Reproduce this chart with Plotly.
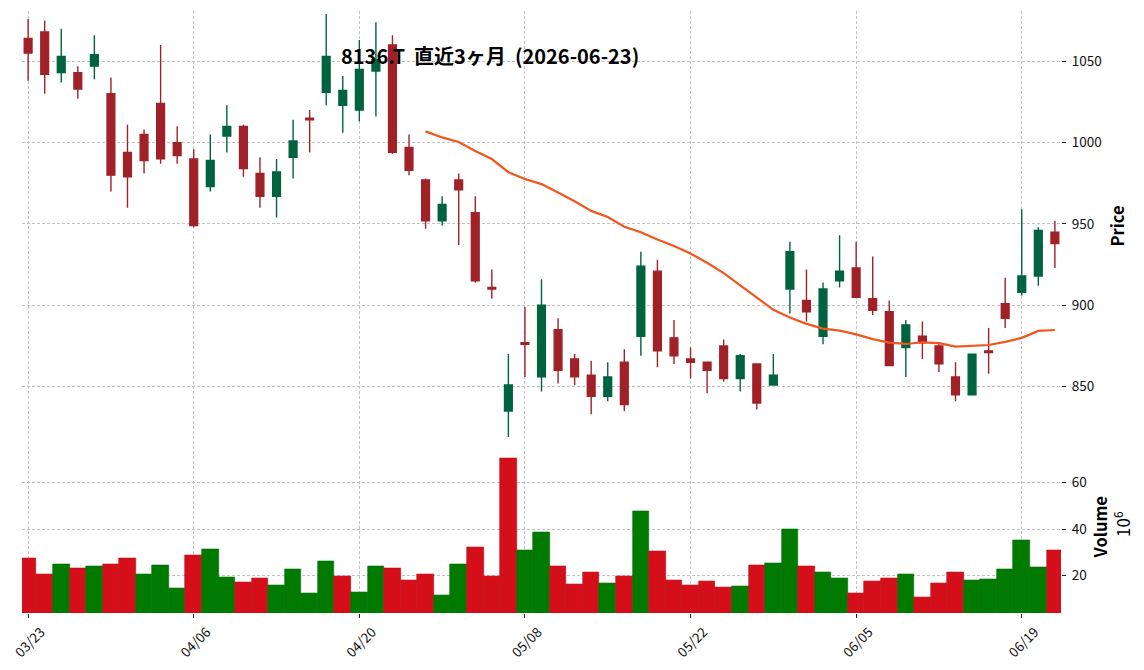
import pandas as pd
import plotly.graph_objects as go
from plotly.subplots import make_subplots

# ---------------- data ----------------
dates = (
    ["2026-03-%02d" % d for d in [23, 24, 25, 26, 27, 30, 31]]
    + ["2026-04-%02d" % d for d in [1, 2, 3, 6, 7, 8, 9, 10, 13, 14, 15, 16, 17, 20, 21, 22, 23, 24, 27, 28, 30]]
    + ["2026-05-%02d" % d for d in [1, 7, 8, 11, 12, 13, 14, 15, 18, 19, 20, 21, 22, 25, 26, 27, 28, 29]]
    + ["2026-06-%02d" % d for d in [1, 2, 3, 4, 5, 8, 9, 10, 11, 12, 15, 16, 17, 18, 19, 22, 23]]
)

opens = [1064, 1068, 1043, 1043, 1047, 1030, 994, 1005, 1024, 1000,
         990, 973, 1004, 1010, 981, 967, 991, 1015, 1031, 1023,
         1020, 1044, 1060, 997, 977, 952, 977, 957, 911, 835,
         877, 856, 885, 867, 857, 844, 865, 881, 921, 880,
         867, 865, 875, 855, 864, 851, 910, 903, 881, 915,
         923, 904, 896, 874, 881, 875, 856, 845, 872, 901,
         908, 918, 945]
highs = [1076, 1075, 1070, 1047, 1066, 1040, 1011, 1008, 1060, 1010,
         996, 1005, 1023, 1011, 991, 990, 1014, 1020, 1079, 1041,
         1063, 1074, 1066, 1005, 978, 967, 981, 967, 922, 870,
         899, 916, 892, 870, 866, 865, 873, 933, 928, 891,
         874, 865, 879, 870, 864, 870, 939, 922, 914, 943,
         939, 930, 903, 891, 890, 877, 865, 870, 886, 917,
         959, 948, 952]
lows = [1038, 1030, 1037, 1027, 1039, 970, 960, 981, 987, 987,
        948, 970, 994, 979, 960, 954, 978, 994, 1023, 1006,
        1013, 1016, 993, 980, 947, 949, 937, 914, 904, 819,
        856, 847, 852, 851, 833, 841, 835, 869, 862, 864,
        855, 846, 853, 847, 836, 851, 895, 890, 876, 911,
        905, 894, 863, 856, 867, 859, 841, 845, 858, 886,
        906, 912, 923]
closes = [1055, 1042, 1053, 1033, 1054, 980, 979, 989, 990, 992,
          949, 989, 1010, 984, 967, 982, 1001, 1014, 1053, 1032,
          1045, 1051, 994, 983, 952, 962, 971, 915, 910, 851,
          876, 900, 860, 856, 844, 856, 839, 924, 872, 869,
          865, 860, 855, 869, 840, 857, 933, 896, 910, 921,
          905, 897, 863, 888, 877, 864, 845, 870, 871, 892,
          918, 946, 938]
volumes = [27.4, 20.6, 24.9, 23.1, 24.0, 24.9, 27.4, 20.6, 24.4, 14.5,
           28.7, 31.3, 19.3, 17.1, 18.8, 15.8, 22.7, 12.4, 26.1, 19.7,
           12.8, 24.0, 23.1, 17.9, 20.6, 11.5, 24.9, 32.2, 19.7, 70.5,
           30.9, 38.6, 24.0, 16.3, 21.4, 16.7, 19.7, 47.7, 30.5, 17.9,
           15.8, 17.5, 14.9, 15.3, 24.4, 25.3, 39.9, 24.0, 21.4, 18.8,
           12.4, 17.5, 18.8, 20.6, 10.7, 16.7, 21.4, 17.9, 18.4, 22.7,
           35.2, 23.6, 30.9]  # x 10^6

tick_idx = [0, 10, 20, 30, 40, 50, 60]
tick_vals = [dates[i] for i in tick_idx]
tick_text = [d[5:7] + "/" + d[8:10] for d in tick_vals]

title_text = "8136.T&nbsp;&nbsp;直近3ヶ月&nbsp;&nbsp;(2026-06-23)"

# ---------------- styles ----------------
UP = "#006340"
DOWN = "#A02128"
VUP = "#007a00"
VDOWN = "#d50f1a"
MA_COLOR = "#f2561d"
FONT = "Noto Sans CJK JP"
GRID = "#c2c2c2"
DASH = "3px,2px"

ma25 = pd.Series(closes).rolling(25).mean()

vcolors = []
vlines = []
for i in range(len(closes)):
    ref = opens[0] if i == 0 else closes[i - 1]
    up = closes[i] > ref
    vcolors.append(VUP if up else VDOWN)
    vlines.append("#006a00" if up else "#b80d17")

fig = make_subplots(rows=2, cols=1, shared_xaxes=True, vertical_spacing=0.003,
                    row_heights=[0.714, 0.286])

fig.add_trace(go.Candlestick(
    x=dates, open=opens, high=highs, low=lows, close=closes,
    increasing=dict(line=dict(color=UP, width=1.4), fillcolor=UP),
    decreasing=dict(line=dict(color=DOWN, width=1.4), fillcolor=DOWN),
    whiskerwidth=0, showlegend=False, hoverinfo="skip"), row=1, col=1)

fig.add_trace(go.Scatter(
    x=dates, y=ma25, mode="lines", line=dict(color=MA_COLOR, width=2.2),
    showlegend=False, hoverinfo="skip"), row=1, col=1)

fig.add_trace(go.Bar(
    x=dates, y=volumes, width=1.0,
    marker=dict(color=vcolors, line=dict(color=vlines, width=0.6)),
    showlegend=False, hoverinfo="skip"), row=2, col=1)

xr = [-0.37, 62.37]
common_x = dict(type="category", range=xr, showgrid=True, gridcolor=GRID,
                griddash=DASH, gridwidth=0.8, showline=False, zeroline=False,
                tickmode="array", tickvals=tick_vals, ticktext=tick_text,
                rangeslider=dict(visible=False), automargin=False)
fig.update_xaxes(**common_x)
fig.update_xaxes(showticklabels=False, ticks="", row=1, col=1)
fig.update_xaxes(ticks="outside", ticklen=4, tickwidth=1.2, tickcolor="#222",
                 tickangle=-45, ticklabelshift=13, ticklabelstandoff=1,
                 tickfont=dict(family=FONT, size=13.5, color="#111"), row=2, col=1)

fig.update_yaxes(side="right", range=[817.5, 1080.9], tickvals=[850, 900, 950, 1000, 1050],
                 showgrid=True, gridcolor=GRID, griddash=DASH, gridwidth=0.8,
                 zeroline=False, showline=False, ticks="outside", ticklen=4,
                 tickcolor="#222", tickwidth=1.2, ticklabelstandoff=3, automargin=False,
                 tickfont=dict(family=FONT, size=13.5, color="#111"), row=1, col=1)
fig.update_yaxes(side="right", range=[3.9, 77.8], tickvals=[20, 40, 60],
                 showgrid=True, gridcolor=GRID, griddash=DASH, gridwidth=0.8,
                 zeroline=False, showline=False, ticks="outside", ticklen=4,
                 tickcolor="#222", tickwidth=1.2, ticklabelstandoff=3, automargin=False,
                 tickfont=dict(family=FONT, size=13.5, color="#111"), row=2, col=1)

L, R, T, B = 22, 1061.5, 11, 613
W, H = 1144, 670


def px(x):
    return (x - L) / (R - L)


def py(y):
    return (B - y) / (B - T)


anns = [
    dict(text="<b>" + title_text + "</b>", x=px(490.5), y=py(56), xref="paper", yref="paper",
         showarrow=False, font=dict(family=FONT, size=20, color="#000"),
         xanchor="center", yanchor="middle"),
    dict(text="<b>Price</b>", x=px(1118), y=py(226), xref="paper", yref="paper",
         showarrow=False, textangle=-90, font=dict(family=FONT, size=16.5, color="#000"),
         xanchor="center", yanchor="middle"),
    dict(text="<b>Volume</b>", x=px(1100.5), y=py(527.5), xref="paper", yref="paper",
         showarrow=False, textangle=-90, font=dict(family=FONT, size=16.5, color="#000"),
         xanchor="center", yanchor="middle"),
    dict(text="10<sup>6</sup>", x=px(1122.5), y=py(524), xref="paper", yref="paper",
         showarrow=False, textangle=-90, font=dict(family=FONT, size=17, color="#000"),
         xanchor="center", yanchor="middle"),
]

fig.update_layout(
    width=W, height=H,
    margin=dict(l=L, r=W - R, t=T, b=H - B, autoexpand=False),
    paper_bgcolor="white", plot_bgcolor="white",
    boxgap=0.33, bargap=0,
    annotations=anns,
    font=dict(family=FONT),
)

fig.write_html("out.html")
